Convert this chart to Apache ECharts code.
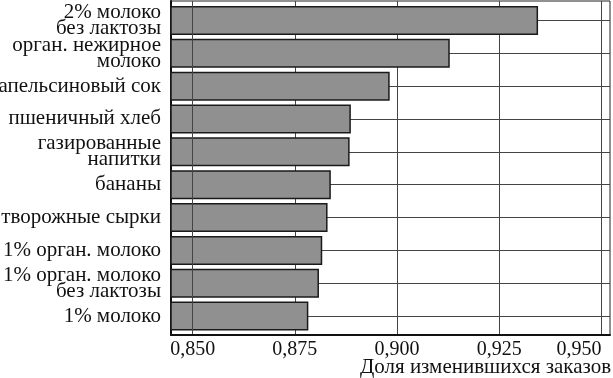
<!DOCTYPE html>
<html>
<head>
<meta charset="utf-8">
<script src="https://cdn.jsdelivr.net/npm/echarts@6/dist/echarts.min.js"></script>
<style>
  html, body { margin: 0; padding: 0; background: #fff; }
  #chart { width: 613px; height: 378px; }
</style>
</head>
<body>
<div id="chart"></div>
<script>
// данные
const categories = [
  '2% молоко\nбез лактозы',
  'орган. нежирное\nмолоко',
  'апельсиновый сок',
  'пшеничный хлеб',
  'газированные\nнапитки',
  'бананы',
  'творожные сырки',
  '1% орган. молоко',
  '1% орган. молоко\nбез лактозы',
  '1% молоко'
]
const shares = [0.9345, 0.9129, 0.8982, 0.8887, 0.8884, 0.8838, 0.8830, 0.8817, 0.8809, 0.8783]
const xTicks = [0.850, 0.875, 0.900, 0.925, 0.950]
const rowTicks = [0, 1, 2, 3, 4, 5, 6, 7, 8, 9]
const xTitle = 'Доля изменившихся заказов'

const xMin = 0.8447
const xMax = 0.9521
const font = 'Liberation Serif'

const chart = echarts.init(document.getElementById('chart'))

chart.setOption({
  animation: false,
  backgroundColor: '#fff',
  grid: [
    // рамка и сетка
    { left: 171, right: 3, top: 1, bottom: 43, outerBoundsMode: 'none', containLabel: false, show: true, borderColor: '#222', borderWidth: 1 },
    // столбцы
    { left: 171, right: 3, top: 4, bottom: 45.5, outerBoundsMode: 'none', containLabel: false }
  ],
  xAxis: [
    {
      gridIndex: 0,
      type: 'value',
      min: xMin,
      max: xMax,
      name: xTitle,
      nameLocation: 'middle',
      nameGap: 22,
      nameMoveOverlap: false,
      nameTextStyle: {
        fontFamily: font, fontSize: 21, color: '#111',
        verticalAlign: 'top', padding: [0, 0, 0, 190]
      },
      axisLine: { show: true, onZero: false, lineStyle: { color: '#111', width: 2 } },
      axisTick: { show: false, customValues: xTicks },
      axisLabel: {
        customValues: xTicks,
        margin: 5,
        alignMaxLabel: 'right',
        fontFamily: font, fontSize: 20, color: '#111',
        formatter: v => v.toFixed(3).replace('.', ',')
      },
      splitLine: { show: true, lineStyle: { color: '#444', width: 1 } }
    },
    { gridIndex: 1, type: 'value', min: xMin, max: xMax, show: false }
  ],
  yAxis: [
    {
      gridIndex: 0,
      type: 'value',
      min: 0,
      max: 1,
      axisLine: { show: true, onZero: false, lineStyle: { color: '#111', width: 2 } },
      axisTick: { show: false },
      axisLabel: { show: false },
      splitLine: { show: false }
    },
    {
      gridIndex: 1,
      type: 'category',
      data: categories,
      inverse: true,
      axisLine: { show: false },
      axisTick: { show: false },
      axisLabel: {
        interval: 0,
        margin: 10,
        fontFamily: font, fontSize: 21, color: '#111',
        lineHeight: 16, align: 'right'
      },
      splitLine: { show: false }
    },
    {
      gridIndex: 1,
      type: 'value',
      min: -0.5,
      max: 9.5,
      inverse: true,
      axisLine: { show: false },
      axisTick: { show: false, customValues: rowTicks },
      axisLabel: { show: false, customValues: rowTicks },
      splitLine: { show: true, lineStyle: { color: '#444', width: 1 } }
    }
  ],
  series: [
    {
      type: 'bar',
      xAxisIndex: 1,
      yAxisIndex: 1,
      data: shares,
      barWidth: 29,
      itemStyle: { color: '#909090', borderColor: '#1a1a1a', borderWidth: 1.5 },
      markLine: {
        silent: true,
        symbol: 'none',
        z: 10,
        label: { show: false },
        lineStyle: { color: '#444', width: 1, type: 'solid' },
        data: [{ xAxis: xTicks[0] }]
      }
    }
  ]
})
</script>
</body>
</html>
